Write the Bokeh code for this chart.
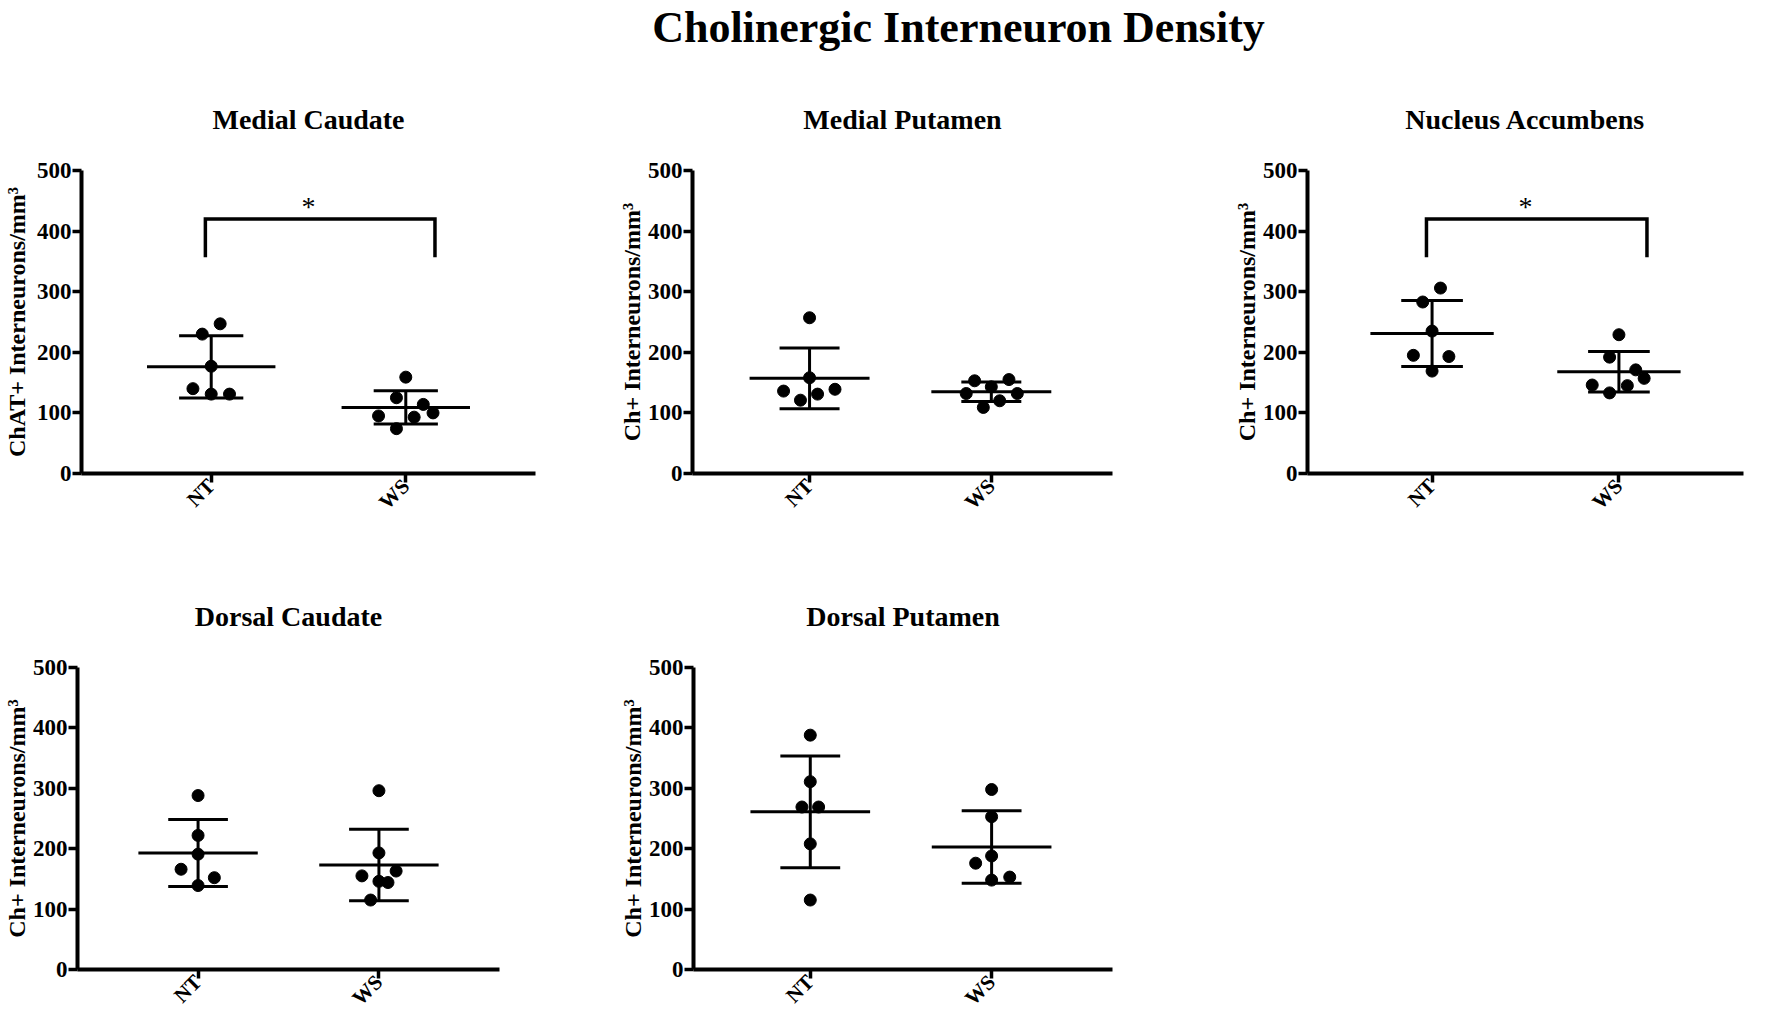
import math
from bokeh.plotting import figure
from bokeh.layouts import column, row
from bokeh.models import Range1d, FixedTicker
from bokeh.embed import file_html
from bokeh.resources import INLINE
from bokeh.core.properties import value

FONT = "Liberation Serif"

# ---------------- data ----------------
main_title = "Cholinergic Interneuron Density"
categories = ["NT", "WS"]
cat_pos = [1, 2]
y_ticks = [0, 100, 200, 300, 400, 500]

# Medial Caudate
mc_title = "Medial Caudate"
mc_ylabel = "ChAT+ Interneurons/mm\u00b3"
mc_nt = [247, 230, 177, 140, 131, 131]
mc_nt_dx = [0.046, -0.046, 0.0, -0.094, 0.0, 0.094]
mc_ws = [159, 125, 114, 95, 93, 100, 74]
mc_ws_dx = [0.0, -0.048, 0.09, -0.14, 0.043, 0.14, -0.048]
mc_mean = [176, 109]
mc_sd = [51.5, 27.5]

# Medial Putamen
mp_title = "Medial Putamen"
mp_ylabel = "Ch+ Interneurons/mm\u00b3"
mp_nt = [257, 158, 136, 121, 131, 139]
mp_nt_dx = [0.0, 0.0, -0.143, -0.05, 0.044, 0.14]
mp_ws = [153, 155, 143, 132, 132, 120, 109]
mp_ws_dx = [-0.092, 0.097, 0.0, -0.138, 0.143, 0.046, -0.044]
mp_mean = [157, 135]
mp_sd = [50, 16]

# Nucleus Accumbens
na_title = "Nucleus Accumbens"
na_ylabel = "Ch+ Interneurons/mm\u00b3"
na_nt = [306, 283, 235, 195, 193, 169]
na_nt_dx = [0.045, -0.05, 0.0, -0.1, 0.09, 0.0]
na_ws = [229, 192, 171, 157, 146, 145, 133]
na_ws_dx = [0.0, -0.05, 0.09, 0.135, -0.143, 0.045, -0.05]
na_mean = [231, 168]
na_sd = [54.5, 33.5]

# Dorsal Caudate
dc_title = "Dorsal Caudate"
dc_ylabel = "Ch+ Interneurons/mm\u00b3"
dc_nt = [288, 222, 191, 166, 152, 139]
dc_nt_dx = [0.0, 0.0, 0.0, -0.094, 0.09, 0.0]
dc_ws = [296, 193, 163, 155, 146, 144, 115]
dc_ws_dx = [0.0, 0.0, 0.095, -0.094, 0.0, 0.05, -0.046]
dc_mean = [193, 173]
dc_sd = [55.5, 59]

# Dorsal Putamen
dp_title = "Dorsal Putamen"
dp_ylabel = "Ch+ Interneurons/mm\u00b3"
dp_nt = [388, 311, 269, 269, 208, 115]
dp_nt_dx = [0.0, 0.0, -0.046, 0.046, 0.0, 0.0]
dp_ws = [298, 253, 188, 176, 148, 153]
dp_ws_dx = [0.0, 0.0, 0.0, -0.088, 0.0, 0.1]
dp_mean = [261, 203]
dp_sd = [92.5, 60]

# significance bracket (value units)
SIG_TOP = 420
SIG_LEG = 357
SIG_STAR_Y = 440
SIG_LEFT = 0.97
SIG_RIGHT = 2.15

MEAN_HALF = 0.33
CAP_HALF = 0.165


def make_panel(title, ylabel, nt, nt_dx, ws, ws_dx, means, sds,
               width, height, bl, br, bt, bb, sig=False, lab_standoff=0,
               x_start=1 / 3):
    p = figure(width=width, height=height,
               x_range=Range1d(x_start, 8 / 3), y_range=Range1d(0, 500),
               output_backend="svg", toolbar_location=None,
               min_border_left=bl, min_border_right=br,
               min_border_top=bt, min_border_bottom=bb)
    p.outline_line_color = None
    p.grid.visible = False
    p.background_fill_color = "white"
    p.border_fill_color = "white"

    p.title.text = title
    p.title.align = "center"
    p.title.text_font = FONT
    p.title.text_font_style = "bold"
    p.title.text_font_size = "28px"
    p.title.text_color = "black"
    p.title.standoff = 72

    for ax in (p.xaxis[0], p.yaxis[0]):
        ax.axis_line_width = 4
        ax.axis_line_color = "black"
        ax.major_tick_line_width = 3.5
        ax.major_tick_line_color = "black"
        ax.major_tick_in = 0
        ax.minor_tick_out = 0
        ax.minor_tick_in = 0
        ax.major_label_text_font = FONT
        ax.major_label_text_font_style = "bold"
        ax.major_label_text_color = "black"

    p.xaxis.major_tick_out = 9
    p.xaxis.major_label_standoff = 0
    p.xaxis.major_label_text_font_size = "21px"
    p.xaxis.ticker = FixedTicker(ticks=cat_pos)
    p.xaxis.major_label_overrides = {c: n for c, n in zip(cat_pos, categories)}
    p.xaxis.major_label_orientation = math.pi / 4

    p.yaxis.major_tick_out = 9
    p.yaxis.major_label_standoff = 1
    p.yaxis.major_label_text_font_size = "23px"
    p.yaxis.ticker = FixedTicker(ticks=y_ticks)
    p.yaxis.axis_label = ylabel
    p.yaxis.axis_label_text_font = FONT
    p.yaxis.axis_label_text_font_style = "bold"
    p.yaxis.axis_label_text_font_size = "24px"
    p.yaxis.axis_label_text_color = "black"
    p.yaxis.axis_label_standoff = lab_standoff

    # mean & SD
    p.segment(x0=[c - MEAN_HALF for c in cat_pos], x1=[c + MEAN_HALF for c in cat_pos],
              y0=means, y1=means, line_width=3, line_color="black")
    p.segment(x0=cat_pos, x1=cat_pos,
              y0=[m - s for m, s in zip(means, sds)], y1=[m + s for m, s in zip(means, sds)],
              line_width=3, line_color="black")
    for sign in (1, -1):
        ys = [m + sign * s for m, s in zip(means, sds)]
        p.segment(x0=[c - CAP_HALF for c in cat_pos], x1=[c + CAP_HALF for c in cat_pos],
                  y0=ys, y1=ys, line_width=3, line_color="black")

    # points
    p.scatter(x=[cat_pos[0] + d for d in nt_dx], y=nt, size=12,
              fill_color="black", line_color="black")
    p.scatter(x=[cat_pos[1] + d for d in ws_dx], y=ws, size=12,
              fill_color="black", line_color="black")

    if sig:
        p.line(x=[SIG_LEFT, SIG_LEFT, SIG_RIGHT, SIG_RIGHT],
               y=[SIG_LEG, SIG_TOP, SIG_TOP, SIG_LEG],
               line_width=3.5, line_color="black", line_join="miter")
        p.text(x=[(cat_pos[0] + cat_pos[1]) / 2], y=[SIG_STAR_Y], text=["*"],
               text_font=value(FONT), text_font_size="28px", text_color="black",
               text_align="center", text_baseline="alphabetic")
    return p


# title strip
TITLE_W, TITLE_H = 1760, 60
t = figure(width=TITLE_W, height=TITLE_H, title=None,
           x_range=Range1d(0, TITLE_W), y_range=Range1d(0, TITLE_H),
           output_backend="svg", toolbar_location=None, min_border=0,
           x_axis_type=None, y_axis_type=None)
t.grid.visible = False
t.outline_line_color = None
t.text(x=[958], y=[33], text=[main_title], text_font=value(FONT),
       text_font_style="bold", text_font_size="44px", text_color="black",
       text_align="center", text_baseline="alphabetic")

p1 = make_panel(mc_title, mc_ylabel, mc_nt, mc_nt_dx, mc_ws, mc_ws_dx, mc_mean, mc_sd,
                600, 465, 80, 65, 110, 52, sig=True, lab_standoff=4)
p2 = make_panel(mp_title, mp_ylabel, mp_nt, mp_nt_dx, mp_ws, mp_ws_dx, mp_mean, mp_sd,
                620, 465, 92, 108, 110, 52, x_start=0.356)
p3 = make_panel(na_title, na_ylabel, na_nt, na_nt_dx, na_ws, na_ws_dx, na_mean, na_sd,
                540, 465, 87, 17, 110, 52, sig=True)
p4 = make_panel(dc_title, dc_ylabel, dc_nt, dc_nt_dx, dc_ws, dc_ws_dx, dc_mean, dc_sd,
                600, 496, 73, 101, 142, 52)
p5 = make_panel(dp_title, dp_ylabel, dp_nt, dp_nt_dx, dp_ws, dp_ws_dx, dp_mean, dp_sd,
                620, 496, 93, 108, 142, 52, x_start=0.356)

layout = column(t, row(p1, p2, p3), row(p4, p5))

open("out.html", "w").write(file_html(layout, INLINE))
